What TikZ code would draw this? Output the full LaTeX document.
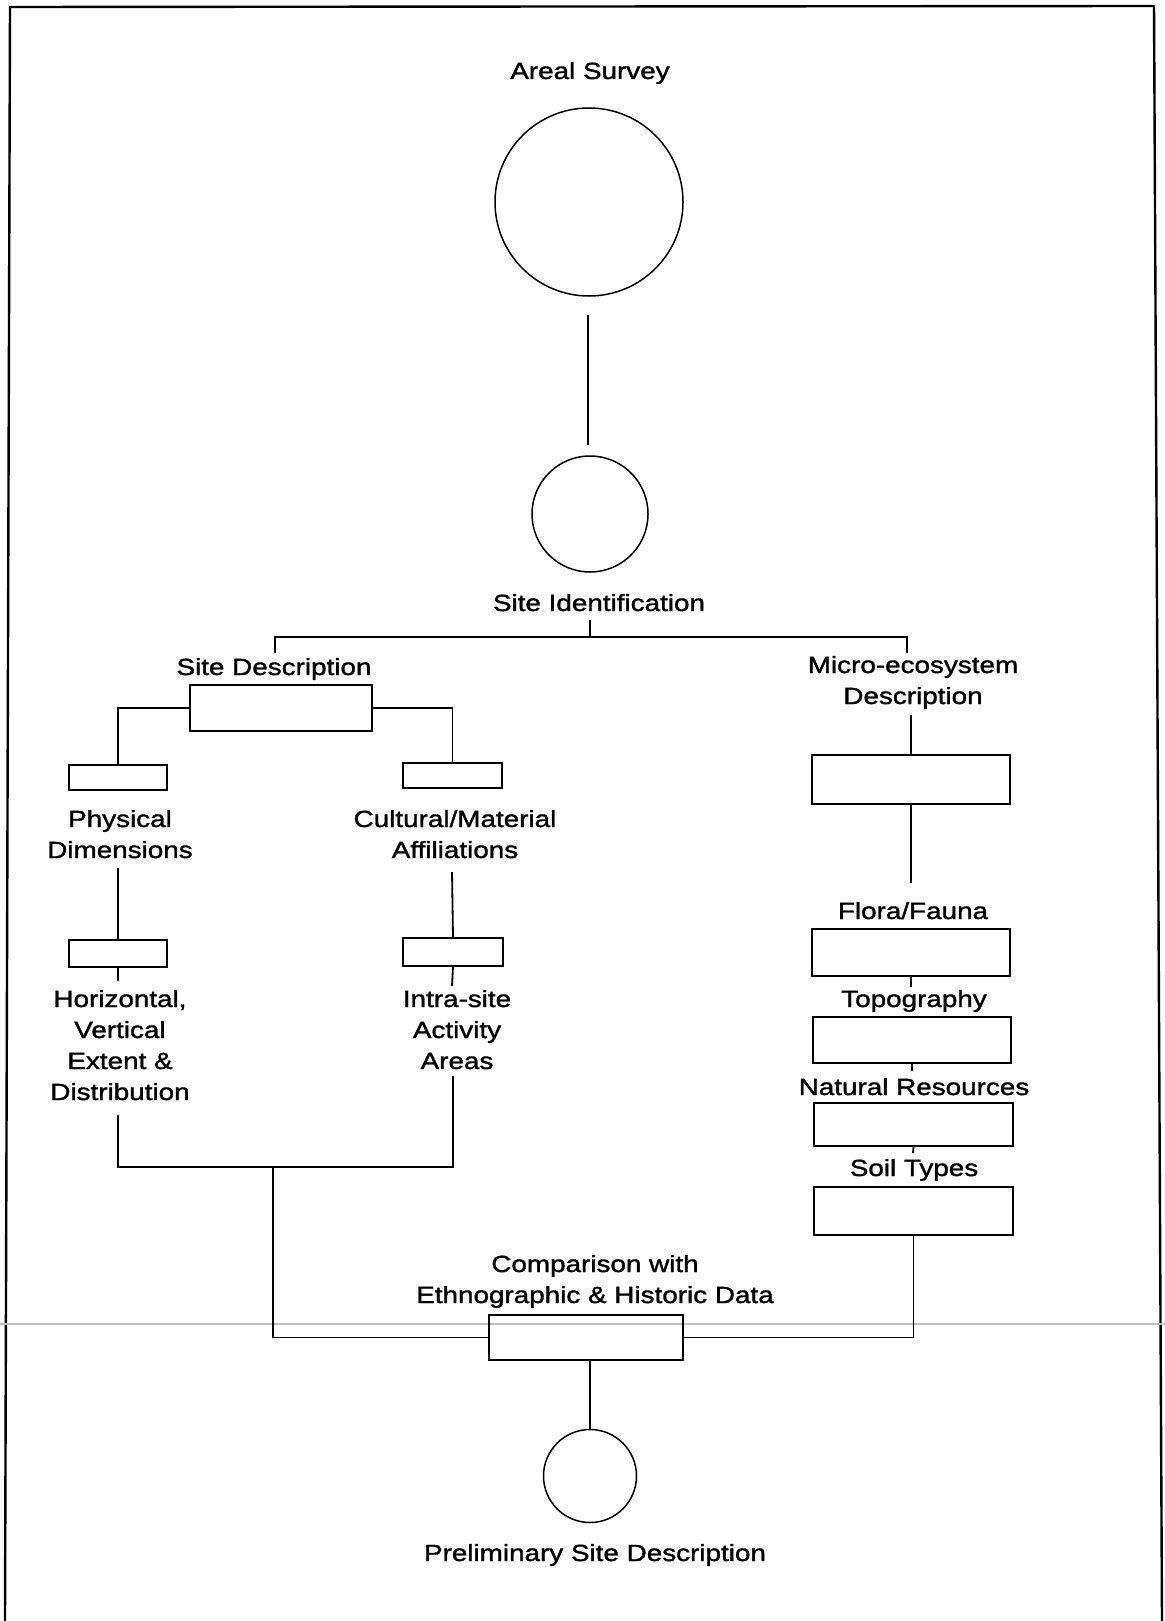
\documentclass[tikz,border=0pt]{standalone}
\usepackage{fontspec}
\setmainfont{Liberation Sans}[FakeStretch=1.19,FakeBold=1.4]
\newcommand\lblfont{\fontsize{11.7pt}{15.5pt}\selectfont}
\begin{document}
\begin{tikzpicture}[x=0.5pt,y=-0.5pt,
  lbl/.style={font=\lblfont, inner sep=0pt, align=center, anchor=base},
  bx/.style={draw, line width=0.9pt, inner sep=0pt, rectangle},
  ln/.style={line width=0.9pt},
  circ/.style={draw, circle, line width=0.75pt, inner sep=0pt}]
\useasboundingbox (0,0) rectangle (1165,1621);
% frame
\draw[line width=1.2pt] (5,1621) -- (10,7) -- (1154,6) -- (1162,1621);
% scan fold line
\draw[gray!50, line width=1.1pt] (0,1324) -- (1165,1324);

% circles
\node[circ, minimum size=94pt] (c1) at (589,202) {};
\node[circ, minimum size=58pt] (c2) at (590,514) {};
\node[circ, minimum size=46.5pt] (c3) at (590,1476) {};

% boxes
\node[bx, minimum width=91pt, minimum height=23pt] (sd) at (281,708) {};
\node[bx, minimum width=49pt, minimum height=12.5pt] (phys) at (118,777.5) {};
\node[bx, minimum width=49.5pt, minimum height=12.5pt] (cult) at (452.5,775.5) {};
\node[bx, minimum width=99pt, minimum height=24.5pt] (micro) at (911,779.5) {};
\node[bx, minimum width=49pt, minimum height=13.5pt] (hv) at (118,953.5) {};
\node[bx, minimum width=50pt, minimum height=14pt] (intra) at (453,952) {};
\node[bx, minimum width=99pt, minimum height=23.5pt] (flora) at (911,952.5) {};
\node[bx, minimum width=99pt, minimum height=23pt] (topo) at (912,1040) {};
\node[bx, minimum width=99.5pt, minimum height=21.5pt] (nr) at (913.5,1124.5) {};
\node[bx, minimum width=99.5pt, minimum height=24pt] (soil) at (913.5,1211) {};
\node[bx, minimum width=97pt, minimum height=22.5pt] (comp) at (586,1337.5) {};

% labels (anchor = baseline of last line)
\node[lbl] (as) at (590,79) {Areal Survey};
\node[lbl] (sid) at (599,611) {Site Identification};
\node[lbl] (sdl) at (274,675) {Site Description};
\node[lbl] (mel) at (913,704) {Micro-ecosystem\\Description};
\node[lbl] (pdl) at (120,858) {Physical\\Dimensions};
\node[lbl] (cml) at (455,858) {Cultural/Material\\Affiliations};
\node[lbl] (hvl) at (120,1100) {Horizontal,\\Vertical\\Extent \&\\Distribution};
\node[lbl] (ial) at (457,1069) {Intra-site\\Activity\\Areas};
\node[lbl] (ffl) at (913,919) {Flora/Fauna};
\node[lbl] (tpl) at (914,1007) {Topography};
\node[lbl] (nrl) at (914,1095) {Natural Resources};
\node[lbl] (stl) at (914,1176) {Soil Types};
\node[lbl] (cpl) at (595,1303) {Comparison with\\Ethnographic \& Historic Data};
\node[lbl] (psl) at (595,1561) {Preliminary Site Description};

% free connector ends
\coordinate (a1) at (588,315);
\coordinate (a2) at (588,445);
\coordinate (j1) at (590,620);
\coordinate (j2) at (590,637);
\coordinate (jl) at (275,653);
\coordinate (jr) at (907,653);
\coordinate (p1) at (118,868);
\coordinate (p2) at (118,981);
\coordinate (q1) at (452,872);
\coordinate (q2) at (452,986);
\coordinate (d1) at (118,1115);
\coordinate (d2) at (453,1076);
\coordinate (m1) at (273,1167);
\coordinate (e1) at (911,715);
\coordinate (e2) at (911,883);
\coordinate (f1) at (911,987);
\coordinate (t1) at (912,1071);
\coordinate (n1) at (913,1153);

% connectors
\draw[ln] (a1) -- (a2);
\draw[ln] (j1) -- (j2);
\draw[ln] (jl) |- (j2) -| (jr);
\draw[ln] (sd.west) -| (phys.north);
\draw[ln] (sd.east) -| (cult.north);
\draw[ln] (p1) -- (hv.north);
\draw[ln] (hv.south) -- (p2);
\draw[ln] (q1) -- (intra.north);
\draw[ln] (intra.south) -- (q2);
\draw[ln] (d1) |- (m1) -| (d2);
\draw[ln] (m1) |- (comp.west);
\draw[ln] (e1) -- (micro.north);
\draw[ln] (micro.south) -- (e2);
\draw[ln] (flora.south) -- (f1);
\draw[ln] (topo.south) -- (t1);
\draw[ln] (nr.south) -- (n1);
\draw[ln] (soil.south) |- (comp.east);
\draw[ln] (comp.south -| c3.north) -- (c3.north);
\end{tikzpicture}
\end{document}
